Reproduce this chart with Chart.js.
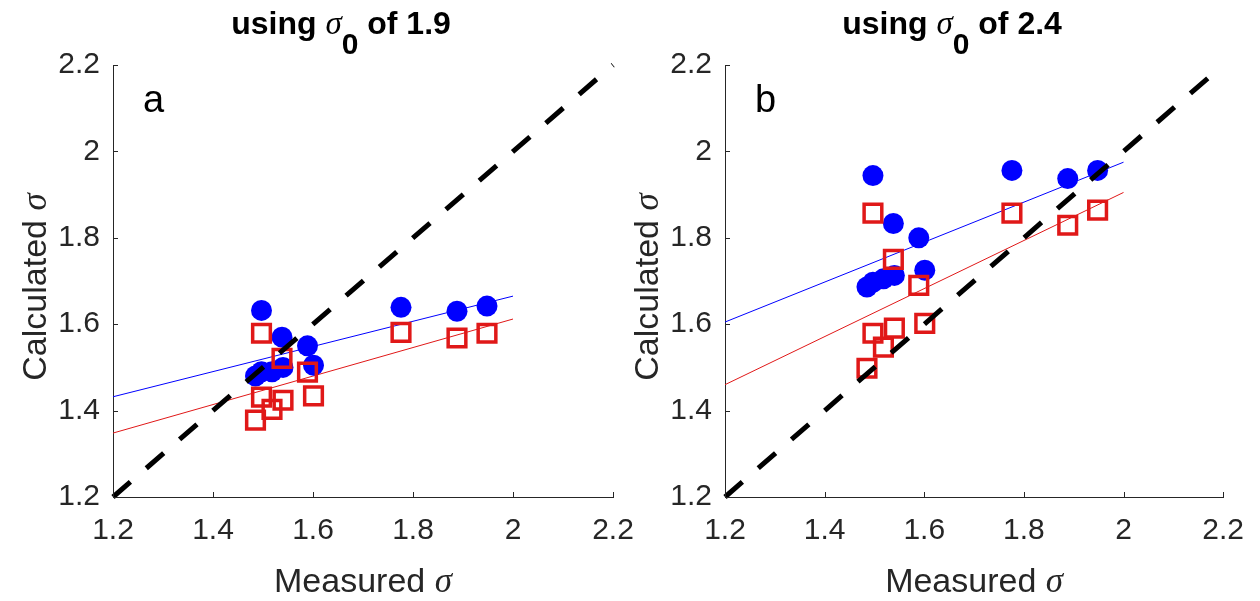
<!DOCTYPE html>
<html>
<head>
<meta charset="utf-8">
<script src="https://cdn.jsdelivr.net/npm/chart.js@4/dist/chart.umd.min.js"></script>
<style>
  html, body { margin: 0; padding: 0; background: #fff; }
  #wrap { position: relative; width: 1260px; height: 601px; }
  #wrap canvas { position: absolute; left: 0; top: 0; }
</style>
</head>
<body>
<div id="wrap">
  <canvas id="panelA" width="1260" height="601"></canvas>
  <canvas id="panelB" width="1260" height="601"></canvas>
</div>
<script>
// measured sigma (same for both panels)
const measured = [1.497, 1.538, 1.589, 1.497, 1.540, 1.518, 1.485, 1.601, 1.776, 1.888, 1.948];

// panel a: sigma0 = 1.9
const blueA = [1.632, 1.570, 1.550, 1.490, 1.500, 1.490, 1.480, 1.505, 1.639, 1.630, 1.642];
const redA  = [1.579, 1.521, 1.489, 1.431, 1.424, 1.403, 1.378, 1.434, 1.581, 1.568, 1.579];

// panel b: sigma0 = 2.4
const blueB = [1.944, 1.833, 1.800, 1.697, 1.713, 1.705, 1.686, 1.725, 1.956, 1.937, 1.956];
const redB  = [1.857, 1.750, 1.690, 1.579, 1.591, 1.547, 1.498, 1.602, 1.857, 1.829, 1.864];

// linear fits, drawn from x = 1.2 to 2.0
const fitX = [1.2, 2.0];
const fitBlueA = [1.432, 1.665];
const fitRedA  = [1.348, 1.612];
const fitBlueB = [1.605, 1.975];
const fitRedB  = [1.460, 1.905];

// 1:1 line
const diagonal = [1.2, 2.2];

const tickValues = [1.2, 1.4, 1.6, 1.8, 2, 2.2];
const tickLabels = ['1.2', '1.4', '1.6', '1.8', '2', '2.2'];
const sigma0Values = ['1.9', '2.4'];
const panelLetters = ['a', 'b'];

const SANS = '"Liberation Sans", Arial, sans-serif';
const SERIF = '"Liberation Serif", "Times New Roman", serif';
const AXIS_COLOR = '#262626';
const BLUE = '#0000ff';
const RED = '#e01818';

const toPoints = (xs, ys) => xs.map((x, i) => ({ x: x, y: ys[i] }));

// draw a list of text pieces one after another, centred on x if asked
function drawRuns(ctx, runs, x, y, center) {
  let total = 0;
  runs.forEach(r => { ctx.font = r.font; r.w = ctx.measureText(r.text).width; total += r.w; });
  let cx = center ? x - total / 2 : x;
  runs.forEach(r => {
    ctx.font = r.font;
    ctx.fillText(r.text, cx, y + (r.dy || 0));
    cx += r.w;
  });
}

const textPlugin = {
  id: 'panelText',
  afterDraw(chart, args, opts) {
    const ctx = chart.ctx;
    const area = chart.chartArea;
    const xs = chart.scales.x, ys = chart.scales.y;
    ctx.save();

    // inward tick marks, MATLAB style
    ctx.strokeStyle = AXIS_COLOR;
    ctx.lineWidth = 1;
    ctx.beginPath();
    tickValues.forEach(v => {
      const px = Math.round(xs.getPixelForValue(v)) + 0.5;
      ctx.moveTo(px, area.bottom);
      ctx.lineTo(px, area.bottom - 5);
      const py = Math.round(ys.getPixelForValue(v)) + 0.5;
      ctx.moveTo(area.left, py);
      ctx.lineTo(area.left + 5, py);
    });
    ctx.stroke();

    ctx.textBaseline = 'alphabetic';
    ctx.textAlign = 'left';

    // title
    ctx.fillStyle = '#000';
    const mid = (area.left + area.right) / 2;
    drawRuns(ctx, [
      { text: 'using ', font: 'bold 32px ' + SANS },
      { text: 'σ', font: 'italic 33px ' + SERIF },
      { text: '0', font: 'bold 30px ' + SANS, dy: 20 },
      { text: ' of ' + opts.sigma0, font: 'bold 32px ' + SANS }
    ], mid - 22, 34, true);

    // panel letter
    ctx.font = '38px ' + SANS;
    ctx.fillText(opts.letter, area.left + 30, 112);

    // x label
    ctx.fillStyle = AXIS_COLOR;
    drawRuns(ctx, [
      { text: 'Measured ', font: '34px ' + SANS },
      { text: 'σ', font: 'italic 35px ' + SERIF }
    ], mid, 592, true);

    // y label
    ctx.save();
    ctx.translate(area.left - 67, (area.top + area.bottom) / 2 + 6);
    ctx.rotate(-Math.PI / 2);
    drawRuns(ctx, [
      { text: 'Calculated ', font: '34px ' + SANS },
      { text: 'σ', font: 'italic 35px ' + SERIF }
    ], 0, 0, true);
    ctx.restore();

    ctx.restore();
  }
};

function axis(extra) {
  return Object.assign({
    type: 'linear',
    min: 1.2,
    max: 2.2,
    afterBuildTicks: s => { s.ticks = tickValues.map(v => ({ value: v })); },
    ticks: {
      callback: (v, i) => tickLabels[i],
      font: { family: SANS, size: 30 },
      color: AXIS_COLOR,
      maxRotation: 0,
      autoSkip: false
    },
    grid: { display: false, drawTicks: false },
    border: { display: true, color: AXIS_COLOR, width: 1 }
  }, extra);
}

function makePanel(id, blue, red, fitBlue, fitRed, sigma0, letter, offset) {
  const yWidth = offset === 0 ? 113 : 95;
  const plotLeft = offset + yWidth;
  const plotRight = plotLeft + 500;
  const x = axis({ afterFit: s => { s.height = 104; } });
  x.ticks.padding = 16;
  const y = axis({ afterFit: s => { s.width = yWidth; } });
  y.ticks.padding = 13;

  new Chart(document.getElementById(id), {
    type: 'scatter',
    data: {
      datasets: [
        {
          type: 'line',
          data: toPoints(diagonal, diagonal),
          borderColor: '#000',
          borderWidth: 5,
          borderDash: [23, 21],
          pointRadius: 0,
          fill: false,
          clip: false,
          order: 0
        },
        {
          data: toPoints(measured, red),
          pointStyle: 'rect',
          pointRadius: 12.5,
          pointBorderWidth: 3.5,
          borderColor: RED,
          backgroundColor: 'rgba(0,0,0,0)',
          order: 1
        },
        {
          data: toPoints(measured, blue),
          pointStyle: 'circle',
          pointRadius: 10.5,
          pointBorderWidth: 0,
          borderColor: BLUE,
          backgroundColor: BLUE,
          order: 2
        },
        {
          type: 'line',
          data: toPoints(fitX, fitRed),
          borderColor: RED,
          borderWidth: 1,
          pointRadius: 0,
          fill: false,
          order: 3
        },
        {
          type: 'line',
          data: toPoints(fitX, fitBlue),
          borderColor: BLUE,
          borderWidth: 1,
          pointRadius: 0,
          fill: false,
          order: 4
        }
      ]
    },
    options: {
      responsive: false,
      animation: false,
      devicePixelRatio: 1,
      layout: { padding: { left: offset, right: 1260 - plotRight, top: 65, bottom: 0 } },
      plugins: {
        legend: { display: false },
        tooltip: { enabled: false },
        panelText: { sigma0: sigma0, letter: letter }
      },
      scales: { x: x, y: y }
    },
    plugins: [textPlugin]
  });
}

makePanel('panelA', blueA, redA, fitBlueA, fitRedA, sigma0Values[0], panelLetters[0], 0);
makePanel('panelB', blueB, redB, fitBlueB, fitRedB, sigma0Values[1], panelLetters[1], 630);
</script>
</body>
</html>
